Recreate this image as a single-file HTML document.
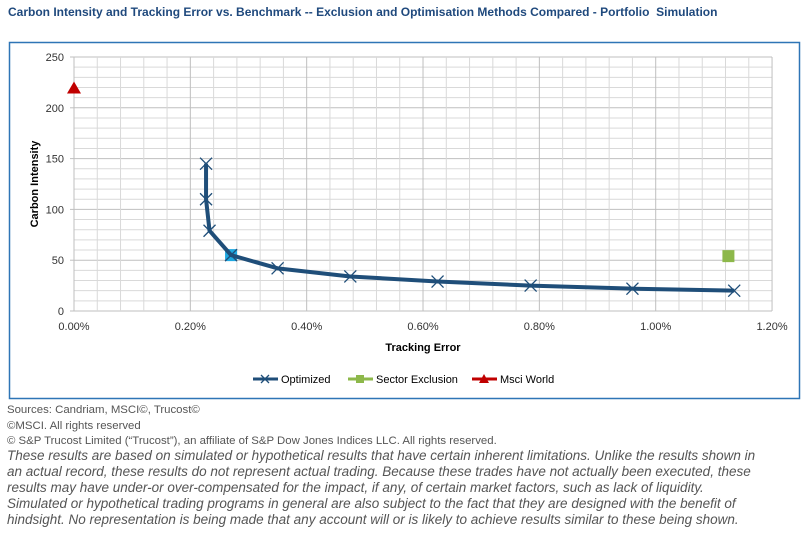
<!DOCTYPE html>
<html><head><meta charset="utf-8"><style>
body{margin:0;width:808px;height:537px;background:#fff;font-family:"Liberation Sans",sans-serif;position:relative;overflow:hidden}
.t{position:absolute;white-space:nowrap}
</style></head><body>
<div class="t" style="left:8px;top:5px;font-size:12px;font-weight:bold;color:#1F497D">Carbon Intensity and Tracking Error vs. Benchmark -- Exclusion and Optimisation Methods Compared - Portfolio &nbsp;Simulation</div>
<svg style="position:absolute;left:0;top:0" width="808" height="400">
<rect x="9.5" y="42.5" width="790" height="356" fill="#fff" stroke="#2E75B6" stroke-width="1.5"/>
<g id="g"></g>
</svg>
<script>
const g=document.getElementById('g');let s='';
const X=v=>74+v*581.7,Y=c=>311-c*1.016;
for(let i=0;i<=25;i++){const y=Y(i*10);s+=`<line x1="74" x2="772" y1="${y}" y2="${y}" stroke="${i%5==0?'#bfbfbf':'#d9d9d9'}" stroke-width="1"/>`;}
for(let i=0;i<=30;i++){const x=X(i*0.04);s+=`<line x1="${x}" x2="${x}" y1="57" y2="311" stroke="${i%5==0?'#bfbfbf':'#d9d9d9'}" stroke-width="1"/>`;}
for(let i=0;i<=5;i++){s+=`<text x="64" y="${Y(i*50)+4}" font-size="11" text-anchor="end" fill="#333" font-family="Liberation Sans">${i*50}</text>`;s+=`<line x1="70" x2="74" y1="${Y(i*50)}" y2="${Y(i*50)}" stroke="#bfbfbf"/>`}
for(let i=0;i<=6;i++){s+=`<text x="${X(i*0.2)}" y="330" font-size="11" text-anchor="middle" fill="#333" font-family="Liberation Sans">${(i*0.2).toFixed(2)}%</text>`}
s+=`<text x="423" y="351" font-size="11" font-weight="bold" text-anchor="middle" font-family="Liberation Sans">Tracking Error</text>`;
s+=`<text transform="translate(38,184) rotate(-90)" font-size="11" font-weight="bold" text-anchor="middle" font-family="Liberation Sans">Carbon Intensity</text>`;
const P=[[0.227,145],[0.227,110],[0.233,79],[0.27,55],[0.35,42],[0.475,34],[0.625,29],[0.785,25],[0.96,22],[1.135,20]];
s+=`<rect x="${X(0.27)-6}" y="${Y(55)-6}" width="12" height="12" fill="#1FA8E0"/>`;
s+=`<path d="M${P.map(p=>X(p[0])+','+Y(p[1])).join(' L')}" fill="none" stroke="#1F4E79" stroke-width="4" stroke-linejoin="round"/>`;
P.forEach(p=>{const x=X(p[0]),y=Y(p[1]);s+=`<path d="M${x-6},${y-6}L${x+6},${y+6}M${x-6},${y+6}L${x+6},${y-6}" stroke="#1F4E79" stroke-width="1.3"/>`});
s+=`<rect x="${X(1.125)-6}" y="${Y(54)-6}" width="12" height="12" fill="#8DB84A"/>`;
s+=`<path d="M${X(0)},${Y(219)-7} L${X(0)+7},${Y(219)+5} L${X(0)-7},${Y(219)+5}Z" fill="#C00000"/>`;
s+=`<line x1="253" x2="278" y1="379" y2="379" stroke="#1F4E79" stroke-width="3"/><path d="M261,375L269,383M261,383L269,375" stroke="#1F4E79" stroke-width="1.3"/><text x="281" y="383" font-size="11" font-family="Liberation Sans">Optimized</text>`;
s+=`<line x1="348" x2="373" y1="379" y2="379" stroke="#8DB84A" stroke-width="3"/><rect x="356" y="375" width="8" height="8" fill="#8DB84A"/><text x="376" y="383" font-size="11" font-family="Liberation Sans">Sector Exclusion</text>`;
s+=`<line x1="472" x2="497" y1="379" y2="379" stroke="#C00000" stroke-width="3"/><path d="M484,374L489,383L479,383Z" fill="#C00000"/><text x="500" y="383" font-size="11" font-family="Liberation Sans">Msci World</text>`;
g.innerHTML=s;
</script>
<div class="t" style="left:7px;top:403px;font-size:11.4px;color:#555;line-height:15.5px">Sources: Candriam, MSCI©, Trucost©<br>©MSCI. All rights reserved<br>© S&amp;P Trucost Limited (“Trucost”), an affiliate of S&amp;P Dow Jones Indices LLC. All rights reserved.</div>
<div class="t" style="left:7px;top:448px;font-size:13.5px;font-style:italic;color:#555;line-height:16px">These results are based on simulated or hypothetical results that have certain inherent limitations. Unlike the results shown in<br>an actual record, these results do not represent actual trading. Because these trades have not actually been executed, these<br>results may have under-or over-compensated for the impact, if any, of certain market factors, such as lack of liquidity.<br>Simulated or hypothetical trading programs in general are also subject to the fact that they are designed with the benefit of<br>hindsight. No representation is being made that any account will or is likely to achieve results similar to these being shown.</div>
</body></html>
